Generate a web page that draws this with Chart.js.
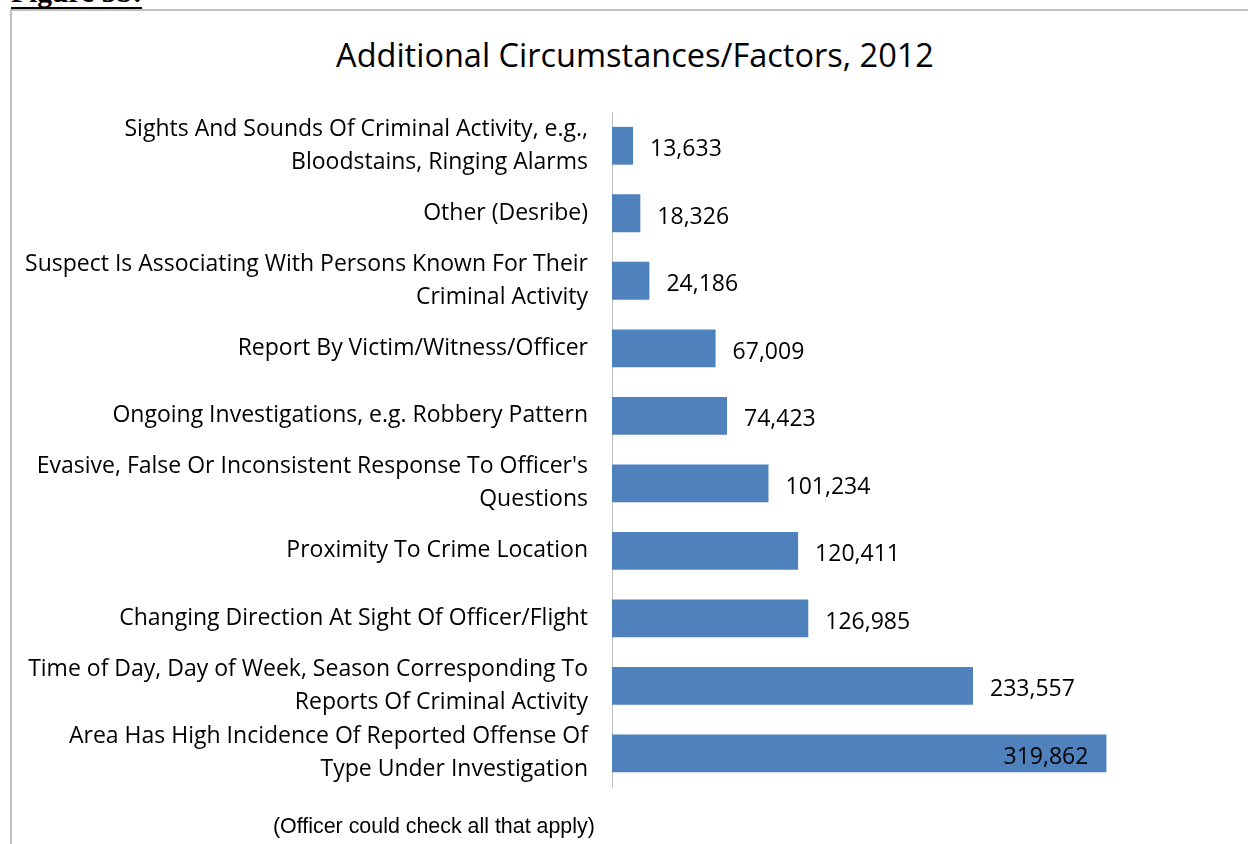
<!DOCTYPE html>
<html>
<head>
<meta charset="utf-8">
<title>Additional Circumstances/Factors, 2012</title>
<script src="https://cdn.jsdelivr.net/npm/chart.js@4.4.1/dist/chart.umd.min.js"></script>
<style>
  html, body { margin: 0; padding: 0; background: #fff; overflow: hidden; }
  .page { position: relative; width: 1248px; height: 844px; overflow: hidden; }
  .frame-top { position: absolute; left: 10px; top: 9px; right: 0; height: 2px; background: #c0c0c0; }
  .frame-left { position: absolute; left: 10px; top: 9px; bottom: 0; width: 2px; background: #c0c0c0; }
  .fig-label {
    position: absolute; left: 11px; top: -23px;
    display: inline-block;
    font: bold 29.5px/30px "Liberation Serif", "Times New Roman", serif;
    color: #000; border-bottom: 2px solid #000; white-space: nowrap;
  }
  .title {
    position: absolute; left: 0; width: 1270px; top: 33px;
    text-align: center; color: #000;
    font: 32.5px/44px "Open Sans", sans-serif;
  }
  .note {
    position: absolute; left: 273px; top: 813px;
    font: 21.4px/26px "Liberation Sans", Arial, sans-serif; color: #000; white-space: nowrap;
  }
  .chart-box { position: absolute; left: 0; top: 0; width: 1248px; height: 844px; }
</style>
</head>
<body>
<div class="page">
  <div class="frame-top"></div>
  <div class="frame-left"></div>
  <div class="fig-label">Figure 5b:</div>
  <div class="title">Additional Circumstances/Factors, 2012</div>
  <div class="chart-box"><canvas id="factorsChart"></canvas></div>
  <div class="note">(Officer could check all that apply)</div>
</div>

<script>
// Categories, top to bottom
const factorLabels = [
  ['Sights And Sounds Of Criminal Activity, e.g.,', 'Bloodstains, Ringing Alarms'],
  'Other (Desribe)',
  ['Suspect Is Associating With Persons Known For Their', 'Criminal Activity'],
  'Report By Victim/Witness/Officer',
  'Ongoing Investigations, e.g. Robbery Pattern',
  ["Evasive, False Or Inconsistent Response To Officer's", 'Questions'],
  'Proximity To Crime Location',
  'Changing Direction At Sight Of Officer/Flight',
  ['Time of Day, Day of Week, Season Corresponding To', 'Reports Of Criminal Activity'],
  ['Area Has High Incidence Of Reported Offense Of', 'Type Under Investigation']
];

// Number of stops citing each factor
const factorCounts = [13633, 18326, 24186, 67009, 74423, 101234, 120411, 126985, 233557, 319862];

const barColor = '#4f81bd';
const labelFont = '"Open Sans", sans-serif';
const labelSize = 23;

// Writes the count next to each bar; moves it inside when it would run past the plot
const valueLabels = {
  id: 'valueLabels',
  afterDatasetsDraw(chart) {
    const { ctx, chartArea } = chart;
    const meta = chart.getDatasetMeta(0);
    ctx.save();
    ctx.font = labelSize + 'px ' + labelFont;
    ctx.fillStyle = '#000';
    ctx.textBaseline = 'middle';
    meta.data.forEach((bar, i) => {
      const text = factorCounts[i].toLocaleString('en-US');
      const w = ctx.measureText(text).width;
      if (bar.x + 17 + w > chartArea.right) {
        ctx.textAlign = 'right';
        ctx.fillText(text, bar.x - 18, bar.y + 4);
      } else {
        ctx.textAlign = 'left';
        ctx.fillText(text, bar.x + 17, bar.y + 4);
      }
    });
    ctx.restore();
  }
};

new Chart(document.getElementById('factorsChart'), {
  type: 'bar',
  data: {
    labels: factorLabels,
    datasets: [{
      data: factorCounts,
      backgroundColor: barColor,
      borderWidth: 0,
      categoryPercentage: 1,
      barPercentage: 0.56
    }]
  },
  options: {
    indexAxis: 'y',
    responsive: true,
    maintainAspectRatio: false,
    animation: false,
    layout: { padding: { top: 112, bottom: 53, right: 95, left: 0 } },
    plugins: {
      legend: { display: false },
      tooltip: { enabled: false }
    },
    scales: {
      x: { display: false, min: 0, max: 350000 },
      y: {
        grid: { display: false, drawTicks: false },
        border: { display: true, color: '#bfbfbf', width: 1 },
        ticks: {
          color: '#000',
          padding: 24,
          autoSkip: false,
          font: { family: labelFont, size: labelSize, lineHeight: 1.43 }
        },
        afterFit(scale) { scale.width = 612; }
      }
    }
  },
  plugins: [valueLabels]
});
</script>
</body>
</html>
